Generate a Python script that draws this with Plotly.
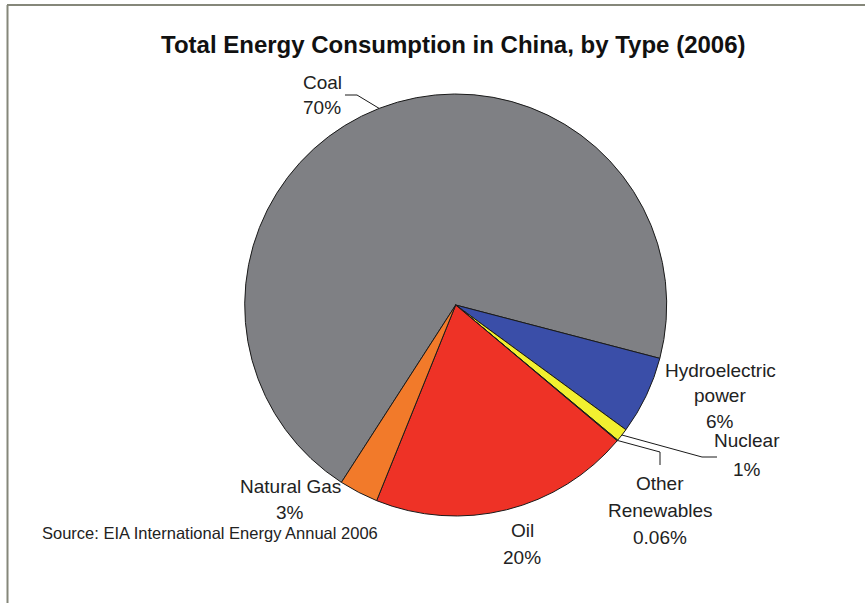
import math
import plotly.graph_objects as go

# Energy consumption shares (percent), listed clockwise starting from Coal
categories = ["Coal", "Hydroelectric power", "Nuclear", "Other Renewables", "Oil", "Natural Gas"]
shares = [70, 6, 1, 0.06, 20, 3]
share_labels = ["70%", "6%", "1%", "0.06%", "20%", "3%"]
slice_colors = ["#7f8084", "#3a4ea8", "#f2f030", "#3c9a3c", "#ee3226", "#f27a2a"]

W, H = 865, 603
CX, CY, R = 455.7, 305.0, 211.0      # pie centre / radius in pixels
START_ANGLE = 212.8                  # clockwise from 12 o'clock

def px(x):
    return x / W

def py(y):
    return 1 - y / H

def edge_point(angle_deg):
    a = math.radians(angle_deg)
    return CX + R * math.sin(a), CY - R * math.cos(a)

# mid-angle of every slice, derived from the shares
total = sum(shares)
mid_angles = []
acc = START_ANGLE
for v in shares:
    span = 360 * v / total
    mid_angles.append(acc + span / 2)
    acc += span

fig = go.Figure(go.Pie(
    labels=categories,
    values=shares,
    sort=False,
    direction="clockwise",
    rotation=START_ANGLE - 360,
    marker=dict(colors=slice_colors, line=dict(color="#1a1a1a", width=1)),
    textinfo="none",
    hoverinfo="label+percent",
    showlegend=False,
    domain=dict(x=[px(CX - R), px(CX + R)], y=[py(CY + R), py(CY - R)]),
))

# label blocks: centre x, first line y, line gap (pixels)
label_layout = {
    "Coal": (322, 82, 26, ["Coal"]),
    "Hydroelectric power": (720, 370, 25.5, ["Hydroelectric", "power"]),
    "Nuclear": (747, 440, 29, ["Nuclear"]),
    "Other Renewables": (660, 483, 27, ["Other", "Renewables"]),
    "Oil": (522, 530, 27, ["Oil"]),
    "Natural Gas": (290, 486, 26, ["Natural Gas"]),
}

label_font = dict(family="Liberation Sans, Arial, sans-serif", size=19, color="#222222")
annotations = []
for name, pct in zip(categories, share_labels):
    x0, y0, gap, lines = label_layout[name]
    for i, line in enumerate(lines + [pct]):
        annotations.append(dict(
            x=px(x0), y=py(y0 + i * gap), xref="paper", yref="paper",
            text=line, showarrow=False, xanchor="center", yanchor="middle",
            font=label_font,
        ))

annotations.append(dict(
    x=px(453), y=py(45), xref="paper", yref="paper",
    text="<b>Total Energy Consumption in China, by Type (2006)</b>",
    showarrow=False, xanchor="center", yanchor="middle",
    font=dict(family="Liberation Sans, Arial, sans-serif", size=24, color="#111111"),
))
annotations.append(dict(
    x=px(40), y=py(533), xref="paper", yref="paper",
    text="Source: EIA International Energy Annual 2006",
    showarrow=False, xanchor="left", yanchor="middle",
    font=dict(family="Liberation Sans, Arial, sans-serif", size=16.5, color="#222222"),
))

# leader lines from slice edges to their labels
leader_bends = {
    "Coal": [(357, 95), (345, 95)],
    "Nuclear": [(702, 457), (717, 457)],
    "Other Renewables": [(660, 452), (660, 465)],
}
shapes = []
for name, bends in leader_bends.items():
    ex, ey = edge_point(mid_angles[categories.index(name)])
    pts = [(ex, ey)] + bends
    path = "M " + " L ".join(f"{px(x):.5f},{py(y):.5f}" for x, y in pts)
    shapes.append(dict(type="path", xref="paper", yref="paper", path=path,
                       line=dict(color="#1a1a1a", width=1)))

# frame lines along the top and left edges
shapes.append(dict(type="line", xref="paper", yref="paper",
                   x0=px(7), y0=py(5), x1=1, y1=py(5),
                   line=dict(color="#85877a", width=2)))
shapes.append(dict(type="line", xref="paper", yref="paper",
                   x0=px(7.5), y0=py(5), x1=px(7.5), y1=0,
                   line=dict(color="#85877a", width=2)))

fig.update_layout(
    width=W, height=H, autosize=False,
    margin=dict(l=0, r=0, t=0, b=0),
    paper_bgcolor="white", plot_bgcolor="white",
    annotations=annotations, shapes=shapes,
)

fig.write_html("out.html")
